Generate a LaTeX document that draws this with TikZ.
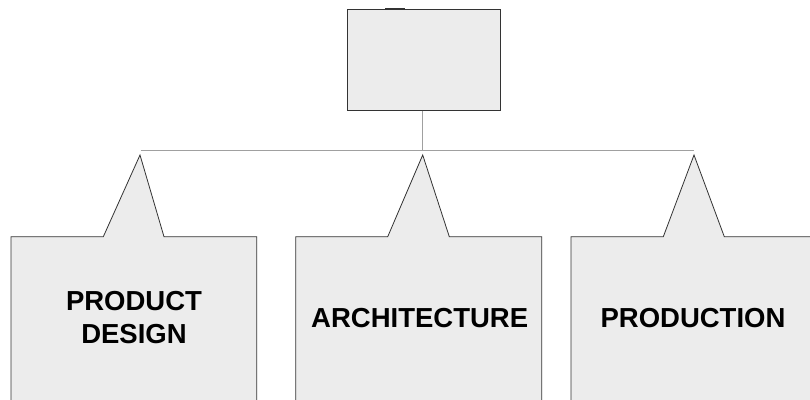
\documentclass[tikz,border=0pt]{standalone}
\usepackage{fontspec}
\setmainfont{Liberation Sans}
\definecolor{boxgray}{HTML}{ECECEC}
\definecolor{edgegray}{HTML}{333333}
\definecolor{busgray}{HTML}{A0A0A0}
\begin{document}
\begin{tikzpicture}[x=1pt,y=-1pt,
  boxfill/.style={fill=boxgray, draw=edgegray, line width=0.8pt},
  bus/.style={draw=busgray, line width=1pt},
  caption/.style={font=\bfseries\fontsize{27.5}{32.5}\selectfont, align=center, text=black, inner sep=0pt}]
\useasboundingbox (0,0) rectangle (810,399);

% head box
\node[boxfill, minimum width=153pt, minimum height=101.7pt, inner sep=0pt] (head) at (424.1,59.85) {};
\draw[line width=2pt, draw=edgegray] (385,9) -- (405,9);

% bus
\coordinate (drop) at (422.7,110.7);
\coordinate (busmid) at (422.7,150);
\coordinate (busL) at (140.7,150);
\coordinate (busR) at (694,150);
\draw[bus] (drop) -- (busmid);
\draw[bus] (busL) -- (busR);

% callout boxes, cut off at the bottom edge
\begin{scope}
\clip (0,0) rectangle (810,399);
\draw[boxfill] (11,236.7) -- (103.3,236.7) -- (140,155) -- (164,236.7) -- (256.7,236.7) -- (256.7,410) -- (11,410) -- cycle;
\draw[boxfill] (295.7,236.7) -- (387.7,236.7) -- (422.7,155) -- (449.3,236.7) -- (541.7,236.7) -- (541.7,410) -- (295.7,410) -- cycle;
\draw[boxfill] (571,236.7) -- (663.3,236.7) -- (694,155) -- (724.3,236.7) -- (820,236.7) -- (820,410) -- (571,410) -- cycle;
\end{scope}

\node[caption] (design) at (134,317.6) {PRODUCT\\DESIGN};
\node[caption] (arch) at (419.7,317.7) {ARCHITECTURE};
\node[caption] (prod) at (693,317.7) {PRODUCTION};
\end{tikzpicture}
\end{document}
